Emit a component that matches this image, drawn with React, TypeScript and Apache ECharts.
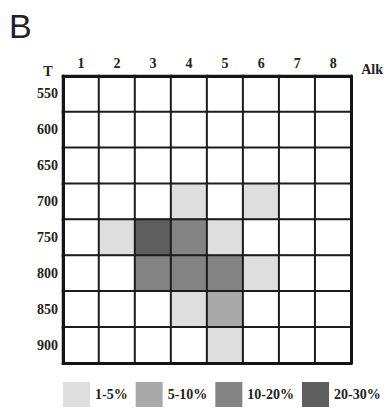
import React, { useEffect, useRef } from "react";
import * as echarts from "echarts";

const alkLabels = ["1", "2", "3", "4", "5", "6", "7", "8"];
const tLabels = ["550", "600", "650", "700", "750", "800", "850", "900"];
const rangeLabels = ["1-5%", "5-10%", "10-20%", "20-30%"];
const rangeColors = ["#dedede", "#a9a9a9", "#838383", "#5e5e5e"];
// abundance class per T row (0 = none, 1..4 = class index + 1), columns = Alk 1..8
const row550 = [0, 0, 0, 0, 0, 0, 0, 0];
const row600 = [0, 0, 0, 0, 0, 0, 0, 0];
const row650 = [0, 0, 0, 0, 0, 0, 0, 0];
const row700 = [0, 0, 0, 1, 0, 1, 0, 0];
const row750 = [0, 1, 4, 3, 1, 0, 0, 0];
const row800 = [0, 0, 3, 3, 3, 1, 0, 0];
const row850 = [0, 0, 0, 1, 2, 0, 0, 0];
const row900 = [0, 0, 0, 0, 1, 0, 0, 0];
const rows = [row550, row600, row650, row700, row750, row800, row850, row900];

const labelFont = {
  fontFamily: "Liberation Serif",
  fontWeight: "bold" as const,
  fontSize: 14,
  color: "#222",
};

export default function App() {
  const ref = useRef<HTMLDivElement>(null);
  useEffect(() => {
    document.body.style.margin = "0";
    if (!ref.current) return;
    const chart = echarts.init(ref.current, undefined, { renderer: "svg" });
    const data: number[][] = [];
    rows.forEach((r, yi) => r.forEach((v, xi) => data.push([xi, yi, v])));
    const axisLine = { show: true, lineStyle: { color: "#151515", width: 3 } };
    chart.setOption({
      animation: false,
      backgroundColor: "#fff",
      title: {
        text: "B",
        left: 4,
        top: 4,
        textStyle: {
          fontFamily: "Liberation Sans",
          fontWeight: "normal",
          fontSize: 34,
          color: "#222",
        },
      },
      grid: { left: 63, top: 76, width: 289, height: 287 },
      xAxis: [
        {
          type: "category",
          data: alkLabels,
          position: "top",
          z: 10,
          name: "Alk",
          nameLocation: "end",
          nameGap: 10,
          nameTextStyle: { ...labelFont, verticalAlign: "bottom" },
          axisLine,
          axisTick: { show: false },
          axisLabel: { ...labelFont, margin: 6 },
          splitLine: { show: false },
        },
        {
          type: "category",
          data: alkLabels,
          position: "bottom",
          z: 10,
          axisLine,
          axisTick: { show: false },
          axisLabel: { show: false },
          splitLine: { show: false },
        },
      ],
      yAxis: [
        {
          type: "category",
          data: tLabels,
          inverse: true,
          position: "left",
          z: 10,
          name: "T",
          nameLocation: "start",
          nameGap: -2,
          nameTextStyle: { ...labelFont, padding: [0, 30, 0, 0] },
          axisLine,
          axisTick: { show: false },
          axisLabel: { ...labelFont, margin: 5 },
          splitLine: { show: false },
        },
        {
          type: "category",
          data: tLabels,
          inverse: true,
          position: "right",
          z: 10,
          axisLine,
          axisTick: { show: false },
          axisLabel: { show: false },
          splitLine: { show: false },
        },
      ],
      visualMap: {
        type: "piecewise",
        orient: "horizontal",
        left: 63,
        top: 382,
        padding: 0,
        itemWidth: 27,
        itemHeight: 25,
        itemGap: 8,
        textGap: 5,
        itemSymbol: "rect",
        selectedMode: false,
        seriesIndex: 0,
        pieces: rangeLabels.map((label, i) => ({
          value: i + 1,
          label,
          color: rangeColors[i],
        })),
        outOfRange: { color: "#ffffff" },
        textStyle: labelFont,
      },
      series: [
        {
          type: "heatmap",
          xAxisIndex: 0,
          yAxisIndex: 0,
          data,
          itemStyle: { borderColor: "#1c1c1c", borderWidth: 2 },
          emphasis: { disabled: true },
        },
      ],
    });
    return () => chart.dispose();
  }, []);
  return <div ref={ref} style={{ width: 386, height: 408 }} />;
}
